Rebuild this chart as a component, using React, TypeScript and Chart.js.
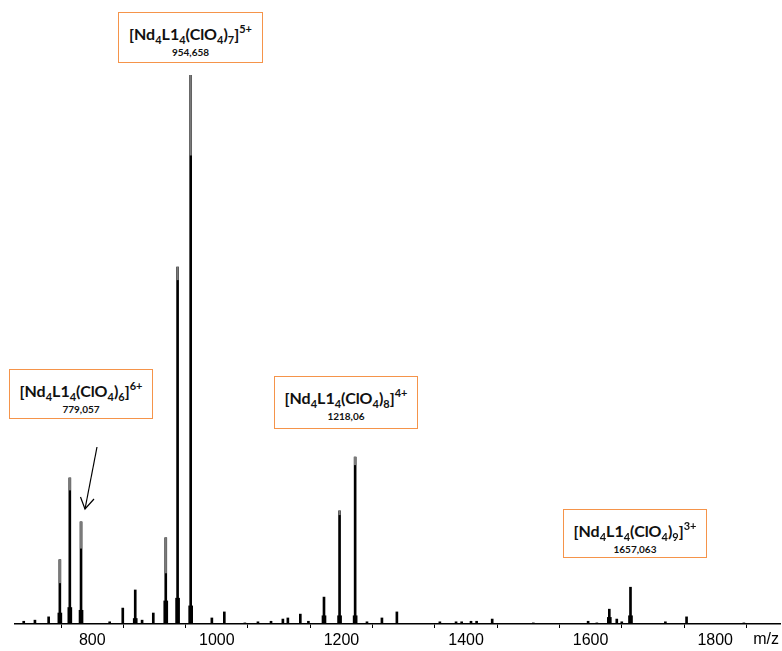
import React, { useEffect, useRef } from 'react';
import { Chart, registerables } from 'chart.js';
Chart.register(...registerables);

// m/z of each peak and its relative intensity (%)
const peakMz = [690, 708, 730, 748, 764, 782, 828, 849, 869, 880, 898, 918, 937, 958, 992, 1012, 1045, 1066, 1087, 1106, 1114, 1134, 1147, 1172, 1197, 1222, 1241, 1265, 1289, 1358, 1384, 1393, 1408, 1417, 1442, 1508, 1596, 1610, 1630, 1642, 1650, 1664, 1720, 1754, 1846];
const peakIntensity = [0.5, 0.7, 1.3, 11.7, 26.6, 18.6, 0.4, 2.9, 6.2, 0.7, 2.0, 15.7, 65.0, 100, 1.1, 2.2, 0.2, 0.4, 0.5, 0.9, 1.1, 1.8, 0.5, 4.9, 20.6, 30.4, 0.4, 1.1, 2.2, 0.4, 0.4, 0.4, 0.5, 0.5, 0.9, 0.2, 0.5, 0.2, 2.7, 0.9, 0.4, 6.7, 0.4, 1.3, 0.2];

// lighter thin tips of the strongest peaks (start of the grey part)
const tipMz = [748, 764, 782, 918, 937, 958, 1197, 1222];
const tipFrom = [7.5, 24.4, 13.8, 9.3, 62.7, 85.4, 19.9, 29.0];

// broad isotope base of the main clusters
const baseMz = [748, 764, 782, 869, 918, 937, 958, 1172, 1197, 1222, 1630, 1664];
const baseIntensity = [2.0, 3.0, 2.5, 1.0, 4.2, 4.7, 3.3, 1.5, 1.5, 1.5, 1.2, 1.5];

const tickValues = [700, 800, 900, 1000, 1100, 1200, 1300, 1400, 1500, 1600, 1700, 1800, 1900];
const tickLabels = ['', '800', '', '1000', '', '1200', '', '1400', '', '1600', '', '1800', ''];

const ionPerchlorates = ['6', '7', '8', '9'];
const ionCharges = ['6+', '5+', '4+', '3+'];
const ionMasses = ['779,057', '954,658', '1218,06', '1657,063'];
const boxPos = [
  { left: 9, top: 369, width: 144, height: 50 },
  { left: 118, top: 12, width: 145, height: 51 },
  { left: 274, top: 376, width: 144, height: 53 },
  { left: 563, top: 509, width: 144, height: 49 },
];

const ORANGE = '#F5944A';
const FONT = 'Lato, "Open Sans", "Noto Sans", sans-serif';

function Formula({ n, z }: { n: string; z: string }) {
  const sub = { fontSize: 11, position: 'relative' as const, top: 4 };
  const sup = { fontSize: 11, position: 'relative' as const, top: -7 };
  return (
    <span>
      [Nd<span style={sub}>4</span>L1<span style={sub}>4</span>(ClO<span style={sub}>4</span>)<span style={sub}>{n}</span>]<span style={sup}>{z}</span>
    </span>
  );
}

export default function App() {
  const ref = useRef<HTMLCanvasElement | null>(null);
  useEffect(() => {
    if (!ref.current) return;
    const mzLabel = {
      id: 'mzLabel',
      afterDraw(chart: any) {
        const ctx = chart.ctx;
        ctx.save();
        ctx.fillStyle = '#000';
        ctx.font = '16px "Liberation Sans Narrow", "Liberation Sans", Arial, sans-serif';
        ctx.textAlign = 'right';
        ctx.textBaseline = 'top';
        ctx.fillText('m/z', 779, 632);
        ctx.restore();
      },
    };
    const chart = new Chart(ref.current, {
      type: 'bar',
      data: {
        datasets: [
          {
            label: 'spectrum',
            data: peakMz.map((m, i) => ({ x: m, y: peakIntensity[i] })),
            backgroundColor: '#000',
            barThickness: 2,
            grouped: false,
            order: 3,
          } as any,
          {
            label: 'tips',
            data: tipMz.map((m, i) => ({ x: m, y: [tipFrom[i], peakIntensity[peakMz.indexOf(m)]] })),
            backgroundColor: '#7a7a7a',
            barThickness: 1.6,
            grouped: false,
            order: 1,
          } as any,
          {
            label: 'base',
            data: baseMz.map((m, i) => ({ x: m, y: baseIntensity[i] })),
            backgroundColor: '#000',
            barThickness: 4,
            grouped: false,
            order: 2,
          } as any,
        ],
      },
      options: {
        animation: false,
        responsive: false,
        devicePixelRatio: 1,
        layout: { padding: { left: 15, right: 2, top: 75, bottom: 0 } },
        plugins: { legend: { display: false }, tooltip: { enabled: false } },
        scales: {
          x: {
            type: 'linear',
            min: 676,
            max: 1904,
            offset: false,
            border: { display: true, color: '#000', width: 1.5 },
            grid: { drawOnChartArea: false, drawTicks: true, tickLength: 4, tickColor: '#000', lineWidth: 1 },
            ticks: {
              color: '#000',
              padding: 3,
              maxRotation: 0,
              autoSkip: false,
              font: { family: '"Liberation Sans Narrow", "Liberation Sans", Arial, sans-serif', size: 16 },
              callback: (v: any) => {
                const i = tickValues.indexOf(Number(v));
                return i >= 0 ? tickLabels[i] : '';
              },
            },
            afterBuildTicks: (scale: any) => {
              scale.ticks = tickValues.map((v) => ({ value: v }));
            },
            afterFit: (scale: any) => {
              scale.height = 27;
            },
          },
          y: { display: false, min: 0, max: 100 },
        },
      },
      plugins: [mzLabel],
    } as any);
    return () => chart.destroy();
  }, []);

  return (
    <div style={{ position: 'fixed', left: 0, top: 0, width: 782, height: 651, background: '#fff' }}>
      <canvas ref={ref} width={782} height={651} style={{ position: 'absolute', left: 0, top: 0 }} />
      <svg width={782} height={651} style={{ position: 'absolute', left: 0, top: 0, pointerEvents: 'none' }}>
        <line x1={97} y1={447} x2={85} y2={509} stroke="#000" strokeWidth={1.2} />
        <polyline points="80.5,497 85,509 94,499" fill="none" stroke="#000" strokeWidth={1.2} />
      </svg>
      {boxPos.map((b, i) => (
        <div
          key={i}
          style={{
            position: 'absolute',
            left: b.left,
            top: b.top,
            width: b.width,
            height: b.height,
            boxSizing: 'border-box',
            border: `1.5px solid ${ORANGE}`,
            background: '#fff',
            textAlign: 'center',
            fontFamily: FONT,
            fontWeight: 700,
            color: '#111',
          }}
        >
          <div style={{ fontSize: 16, lineHeight: '18px', marginTop: 12, whiteSpace: 'nowrap' }}>
            <Formula n={ionPerchlorates[i]} z={ionCharges[i]} />
          </div>
          <div style={{ fontSize: 10, lineHeight: '11px', marginTop: 2 }}>{ionMasses[i]}</div>
        </div>
      ))}
    </div>
  );
}
